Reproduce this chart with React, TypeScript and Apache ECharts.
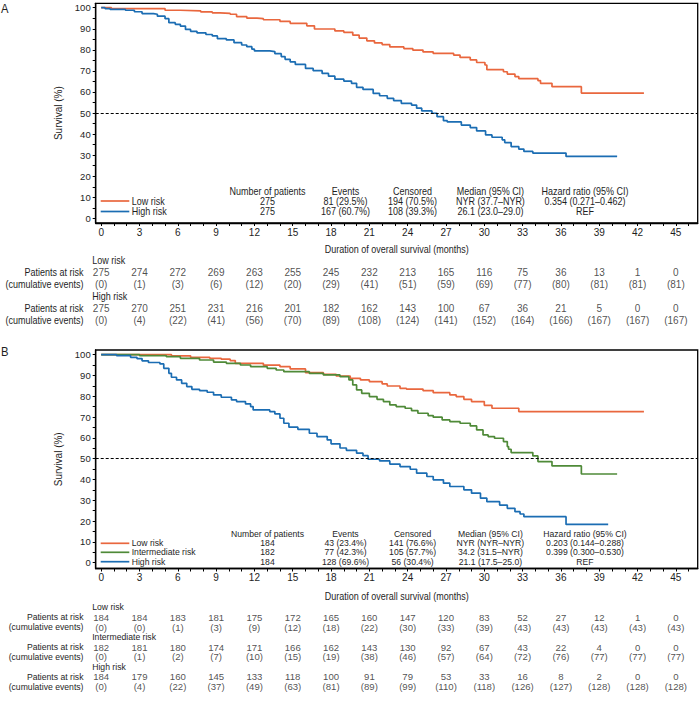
import React, { useEffect, useRef } from "react";
import * as echarts from "echarts";

const FONT = "'Liberation Sans', Arial, Helvetica, sans-serif";
const NARROW = 0.9;
const TXT = "#1e1e1e";
const C_LOW = "#E9673E";
const C_INT = "#4F8A38";
const C_HIGH = "#1B6DB3";

// ---- axis ticks / labels ----
const MONTHS = [0, 3, 6, 9, 12, 15, 18, 21, 24, 27, 30, 33, 36, 39, 42, 45];
const MONTH_TICKS = [0,1,2,3,4,5,6,7,8,9,10,11,12,13,14,15,16,17,18,19,20,21,22,23,24,25,26,27,28,29,30,31,32,33,34,35,36,37,38,39,40,41,42,43,44,45,46];
const SURV_LABELS = [0, 10, 20, 30, 40, 50, 60, 70, 80, 90, 100];
const SURV_TICKS = [0, 5, 10, 15, 20, 25, 30, 35, 40, 45, 50, 55, 60, 65, 70, 75, 80, 85, 90, 95, 100];

// ---- Panel A Kaplan-Meier curves [month, survival %] ----
const A_LOW_KM = [[0,100],[0.8,99.6],[5.0,98.8],[6.2,98.5],[7.8,98.0],[8.7,97.6],[9.3,97.3],[10.1,96.9],[10.6,95.8],[11.4,95.1],[12.2,94.8],[12.7,94.3],[14.0,93.5],[14.8,92.6],[16.1,91.4],[16.7,89.9],[18.3,89.0],[19.0,88.3],[19.7,87.0],[20.2,85.6],[20.8,84.3],[21.4,83.3],[22.0,82.5],[22.6,81.4],[23.7,80.6],[24.4,79.9],[25.2,79.0],[26.0,78.3],[27.6,77.5],[28.1,76.4],[28.9,75.2],[29.4,74.0],[30.05,72.8],[30.2,70.6],[31.5,69.6],[31.8,68.5],[32.4,67.3],[32.7,66.3],[34.2,65.4],[34.4,64.1],[35.3,62.5],[37.6,59.5],[42.5,59.5]];
const A_HIGH_KM = [[0,100],[0.3,99.6],[0.7,99.2],[1.9,98.8],[2.6,98.1],[3.2,97.2],[4.1,96.9],[4.4,96.0],[5.0,94.8],[5.3,92.9],[5.8,92.1],[6.2,91.3],[6.6,89.7],[7.0,88.8],[7.5,88.1],[8.2,87.3],[8.7,86.6],[9.1,85.3],[9.8,84.7],[10.4,83.4],[11.0,82.3],[11.4,81.5],[11.8,80.3],[12.0,79.5],[13.2,79.2],[13.6,78.2],[14.1,76.8],[14.4,75.5],[14.8,74.3],[15.2,73.1],[16.0,71.2],[16.6,70.1],[17.3,68.8],[17.8,67.5],[18.3,66.1],[19.0,65.2],[19.6,64.1],[20.0,62.2],[20.5,61.2],[21.3,59.3],[21.8,58.2],[22.4,57.0],[22.9,55.9],[23.5,54.6],[24.3,53.8],[24.7,52.3],[25.1,51.0],[25.9,49.9],[26.3,48.3],[26.8,46.4],[27.1,45.8],[28.2,44.3],[28.9,43.1],[29.4,41.5],[30.1,39.6],[30.6,38.5],[31.4,37.3],[31.6,36.0],[32.1,34.1],[32.7,32.9],[33.1,31.8],[33.8,31.0],[36.4,29.4],[40.4,29.4]];

// ---- Panel B Kaplan-Meier curves ----
const B_LOW_KM = [[0,100],[5.5,99.4],[7.0,98.7],[8.5,98.2],[9.4,97.8],[10.1,97.1],[10.5,95.8],[12.7,94.9],[14.0,94.2],[14.8,93.1],[16.0,91.3],[17.4,90.5],[18.4,89.7],[19.5,88.6],[20.3,87.8],[21.0,87.0],[22.0,85.9],[22.4,84.9],[23.4,83.8],[23.9,83.4],[25.2,82.7],[26.0,81.7],[27.3,80.6],[27.8,79.8],[28.4,78.5],[29.0,77.4],[30.0,75.6],[30.6,74.2],[32.7,72.6],[42.5,72.6]];
const B_INT_KM = [[0,100],[3.0,99.5],[5.1,99.0],[6.2,98.2],[7.7,97.4],[8.8,96.4],[9.8,95.8],[10.9,95.0],[11.7,94.2],[13.0,93.4],[13.7,92.6],[14.3,91.8],[16.3,91.0],[17.4,90.2],[18.7,89.4],[19.4,87.8],[19.7,85.4],[20.0,83.0],[20.4,81.4],[21.0,79.8],[21.6,78.5],[22.1,77.4],[22.6,75.8],[23.1,75.0],[23.8,74.2],[24.3,73.1],[24.8,71.8],[25.6,70.7],[26.0,69.9],[26.7,68.6],[27.3,67.8],[28.1,67.0],[28.9,65.7],[29.4,63.8],[29.9,61.4],[30.3,60.6],[30.8,59.8],[31.5,58.2],[31.8,55.8],[31.9,54.5],[32.1,52.9],[33.8,51.3],[34.2,48.6],[35.3,46.5],[37.6,42.6],[40.4,42.6]];
const B_HIGH_KM = [[0,100],[1.2,99.5],[2.3,98.7],[2.8,98.1],[3.2,97.0],[3.7,96.2],[4.6,95.5],[4.9,93.4],[5.3,91.0],[5.5,89.1],[5.9,87.8],[6.3,86.2],[6.7,84.6],[7.1,83.3],[7.7,82.7],[8.3,81.9],[8.8,80.6],[9.4,79.5],[10.2,78.2],[10.6,77.4],[11.3,76.3],[11.7,75.0],[11.9,73.4],[13.2,72.6],[13.6,71.5],[14.0,69.4],[14.3,67.0],[14.7,65.1],[15.4,64.1],[16.3,62.2],[16.9,60.6],[17.7,59.0],[18.0,57.1],[18.7,55.1],[19.2,54.0],[20.0,52.6],[20.5,51.4],[20.9,49.7],[21.8,48.9],[22.6,47.4],[23.4,46.2],[24.2,44.9],[24.7,43.0],[25.5,41.4],[26.0,39.8],[26.8,38.2],[27.3,36.6],[28.4,35.0],[29.0,33.4],[29.7,31.0],[30.2,29.3],[31.2,27.7],[31.8,26.1],[32.4,24.5],[32.8,23.4],[33.1,22.1],[36.4,18.4],[39.7,18.4]];

// ---- Risk tables ----
const A_LOW_AT_RISK = [275, 274, 272, 269, 263, 255, 245, 232, 213, 165, 116, 75, 36, 13, 1, 0];
const A_LOW_CUM = [0, 1, 3, 6, 12, 20, 29, 41, 51, 59, 69, 77, 80, 81, 81, 81];
const A_HIGH_AT_RISK = [275, 270, 251, 231, 216, 201, 182, 162, 143, 100, 67, 36, 21, 5, 0, 0];
const A_HIGH_CUM = [0, 4, 22, 41, 56, 70, 89, 108, 124, 141, 152, 164, 166, 167, 167, 167];

const B_LOW_AT_RISK = [184, 184, 183, 181, 175, 172, 165, 160, 147, 120, 83, 52, 27, 12, 1, 0];
const B_LOW_CUM = [0, 0, 1, 3, 9, 12, 18, 22, 30, 33, 39, 43, 43, 43, 43, 43];
const B_INT_AT_RISK = [182, 181, 180, 174, 171, 166, 162, 143, 130, 92, 67, 43, 22, 4, 0, 0];
const B_INT_CUM = [0, 1, 2, 7, 10, 15, 19, 38, 46, 57, 64, 72, 76, 77, 77, 77];
const B_HIGH_AT_RISK = [184, 179, 160, 145, 133, 118, 100, 91, 79, 53, 33, 16, 8, 2, 0, 0];
const B_HIGH_CUM = [0, 4, 22, 37, 49, 63, 81, 89, 99, 110, 118, 126, 127, 128, 128, 128];

// ---- Summary statistics ----
const STAT_HEADERS = ["Number of patients", "Events", "Censored", "Median (95% CI)", "Hazard ratio (95% CI)"];
const A_GROUPS = ["Low risk", "High risk"];
const A_PATIENTS = ["275", "275"];
const A_EVENTS = ["81 (29.5%)", "167 (60.7%)"];
const A_CENSORED = ["194 (70.5%)", "108 (39.3%)"];
const A_MEDIAN = ["NYR (37.7–NYR)", "26.1 (23.0–29.0)"];
const A_HR = ["0.354 (0.271–0.462)", "REF"];

const B_GROUPS = ["Low risk", "Intermediate risk", "High risk"];
const B_PATIENTS = ["184", "182", "184"];
const B_EVENTS = ["43 (23.4%)", "77 (42.3%)", "128 (69.6%)"];
const B_CENSORED = ["141 (76.6%)", "105 (57.7%)", "56 (30.4%)"];
const B_MEDIAN = ["NYR (NYR–NYR)", "34.2 (31.5–NYR)", "21.1 (17.5–25.0)"];
const B_HR = ["0.203 (0.144–0.288)", "0.399 (0.300–0.530)", "REF"];

const X_TITLE = "Duration of overall survival (months)";
const ROW_PAR = "Patients at risk";
const ROW_CUM = "(cumulative events)";

const X_MIN = -0.43;
const X_MAX = 46.71;
const A_YMIN = -2.2, A_YMAX = 102.1;
const B_YMIN = -2.8, B_YMAX = 102.2;
const STAT_COLS = [267.5, 345.5, 412.6, 490.4, 585];

function plotX(gridIndex: number) {
  return {
    type: "value", gridIndex, min: X_MIN, max: X_MAX,
    axisLine: { show: true, onZero: false, lineStyle: { color: "#000", width: 1.3 } },
    axisTick: { show: true, customValues: MONTH_TICKS, length: 3, lineStyle: { color: "#000", width: 1 } },
    axisLabel: { show: true, customValues: MONTHS, margin: 4, fontSize: 10, fontFamily: FONT, color: TXT },
    splitLine: { show: false },
  };
}
function plotY(gridIndex: number, min: number, max: number) {
  return {
    type: "value", gridIndex, min, max,
    axisLine: { show: true, onZero: false, lineStyle: { color: "#000", width: 1.3 } },
    axisTick: { show: true, customValues: SURV_TICKS, length: 3, lineStyle: { color: "#000", width: 1 } },
    axisLabel: { show: true, customValues: SURV_LABELS, margin: 5, fontSize: 9.5, fontFamily: FONT, color: TXT },
    splitLine: { show: false },
    name: "Survival (%)", nameLocation: "middle", nameGap: 30,
    nameTextStyle: { fontSize: 10, fontFamily: FONT, color: TXT },
  };
}
function tableX(gridIndex: number) {
  return { type: "value", gridIndex, min: X_MIN, max: X_MAX, show: false };
}
function tableY(gridIndex: number, nGroups: number) {
  const keys: string[] = [];
  for (let g = 0; g < nGroups; g++) keys.push("h" + g, "p" + g, "c" + g);
  return { type: "category", gridIndex, data: keys, inverse: true, show: false };
}
function tableSeries(xi: number, groups: { name: string; atRisk: number[]; cum: number[] }[], size: number) {
  const data: any[] = [];
  groups.forEach((g, gi) => {
    const base = gi * 3;
    g.atRisk.forEach((v, i) => data.push({ value: [MONTHS[i], base + 1, String(v)] }));
    g.cum.forEach((v, i) => data.push({ value: [MONTHS[i], base + 2, "(" + v + ")"] }));
  });
  return {
    type: "scatter", xAxisIndex: xi, yAxisIndex: xi, symbolSize: 1, silent: true,
    itemStyle: { color: "rgba(0,0,0,0)" },
    label: {
      show: true, position: "inside", fontSize: size, fontFamily: FONT, color: TXT,
      formatter: (p: any) => p.data.value[2],
    },
    labelLayout: { hideOverlap: false },
    data,
  };
}
function kmSeries(xi: number, name: string, color: string, data: number[][], withRef: boolean) {
  const s: any = {
    type: "line", name, xAxisIndex: xi, yAxisIndex: xi, step: "end", showSymbol: false, symbol: "none",
    lineStyle: { color, width: 1.7 }, itemStyle: { color }, data, silent: true, z: 3,
  };
  if (withRef) {
    s.markLine = {
      silent: true, symbol: ["none", "none"], label: { show: false },
      lineStyle: { color: "#000", type: [3, 2], width: 1.2 },
      data: [{ yAxis: 50 }],
    };
  }
  return s;
}
function txt(x: number, y: number, text: string, align = "center", size = 10) {
  return {
    type: "text", x, y, scaleX: NARROW, silent: true,
    style: { text, fill: TXT, fontSize: size, fontFamily: FONT, align, verticalAlign: "middle" },
  };
}
function statBlock(headerY: number, rowYs: number[], groups: string[], colors: string[], cols: string[][], size: number) {
  const els: any[] = [];
  STAT_HEADERS.forEach((h, i) => els.push(txt(STAT_COLS[i], headerY, h, "center", size)));
  groups.forEach((g, r) => {
    const y = rowYs[r];
    els.push({ type: "line", silent: true, shape: { x1: 100.7, y1: y, x2: 129.3, y2: y }, style: { stroke: colors[r], lineWidth: 1.7 } });
    els.push(txt(131.7, y, g, "left", size));
    cols.forEach((c, ci) => els.push(txt(STAT_COLS[ci], y, c[r], "center", size)));
  });
  return els;
}

export default function App() {
  const ref = useRef<HTMLDivElement>(null);
  useEffect(() => {
    document.body.style.margin = "0";
    const chart = echarts.init(ref.current!, null, { renderer: "svg" });
    const option: any = {
      animation: false,
      grid: [
        { left: 95.7, top: 3.3, width: 602, height: 219.7, show: true, borderColor: "#000", borderWidth: 1.3 },
        { left: 95.7, top: 254.7, width: 602, height: 72, show: false },
        { left: 95.7, top: 350, width: 602, height: 218.5, show: true, borderColor: "#000", borderWidth: 1.3 },
        { left: 95.7, top: 602.3, width: 602, height: 89.4, show: false },
      ],
      xAxis: [plotX(0), tableX(1), plotX(2), tableX(3)],
      yAxis: [plotY(0, A_YMIN, A_YMAX), tableY(1, 2), plotY(2, B_YMIN, B_YMAX), tableY(3, 3)],
      series: [
        kmSeries(0, "Low risk", C_LOW, A_LOW_KM, true),
        kmSeries(0, "High risk", C_HIGH, A_HIGH_KM, false),
        tableSeries(1, [
          { name: "Low risk", atRisk: A_LOW_AT_RISK, cum: A_LOW_CUM },
          { name: "High risk", atRisk: A_HIGH_AT_RISK, cum: A_HIGH_CUM },
        ], 10),
        kmSeries(2, "Low risk", C_LOW, B_LOW_KM, true),
        kmSeries(2, "Intermediate risk", C_INT, B_INT_KM, false),
        kmSeries(2, "High risk", C_HIGH, B_HIGH_KM, false),
        tableSeries(3, [
          { name: "Low risk", atRisk: B_LOW_AT_RISK, cum: B_LOW_CUM },
          { name: "Intermediate risk", atRisk: B_INT_AT_RISK, cum: B_INT_CUM },
          { name: "High risk", atRisk: B_HIGH_AT_RISK, cum: B_HIGH_CUM },
        ], 9.6),
      ],
    };
    chart.setOption(option);

    const px = (gi: number, x: number, y: number) => chart.convertToPixel({ gridIndex: gi } as any, [x, y]) as number[];
    const gfx: any[] = [
      { type: "text", x: 1, y: 2, silent: true, style: { text: "A", fill: TXT, fontSize: 12.5, fontFamily: FONT, verticalAlign: "top" }, scaleX: NARROW },
      { type: "text", x: 1, y: 345, silent: true, style: { text: "B", fill: TXT, fontSize: 12.5, fontFamily: FONT, verticalAlign: "top" }, scaleX: NARROW },
      ...statBlock(191, [201, 211.5], A_GROUPS, [C_LOW, C_HIGH], [A_PATIENTS, A_EVENTS, A_CENSORED, A_MEDIAN, A_HR], 10),
      ...statBlock(534.3, [543.3, 552.3, 561.7], B_GROUPS, [C_LOW, C_INT, C_HIGH], [B_PATIENTS, B_EVENTS, B_CENSORED, B_MEDIAN, B_HR], 9.6),
    ];
    // x-axis titles, centred under each plot
    const addTitle = (gi: number, yMin: number, gap: number) => {
      const xl = px(gi, X_MIN, yMin), xr = px(gi, X_MAX, yMin);
      gfx.push(txt((xl[0] + xr[0]) / 2, xl[1] + gap, X_TITLE, "center", 10));
    };
    addTitle(0, A_YMIN, 26.3);
    addTitle(2, B_YMIN, 27.5);
    // risk-table group headers and row labels
    const addTable = (gi: number, groups: string[], size: number) => {
      groups.forEach((g, k) => {
        const h = px(gi, 0, k * 3);
        gfx.push(txt(h[0] - 9, h[1], g, "left", size));
        const p = px(gi, 0, k * 3 + 1);
        gfx.push(txt(83.5, p[1], ROW_PAR, "right", size));
        const c = px(gi, 0, k * 3 + 2);
        gfx.push(txt(83.5, c[1], ROW_CUM, "right", size));
      });
    };
    addTable(1, A_GROUPS, 10);
    addTable(3, B_GROUPS, 9.6);
    chart.setOption({ graphic: gfx });
    return () => chart.dispose();
  }, []);
  return <div ref={ref} style={{ width: 699, height: 706 }} />;
}
